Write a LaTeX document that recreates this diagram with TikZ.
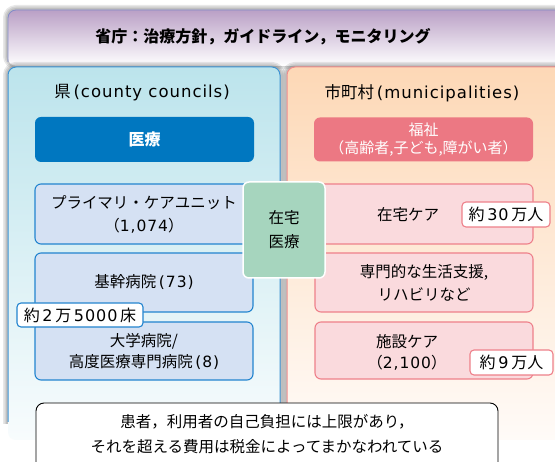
\documentclass[tikz,border=0pt]{standalone}
\usepackage{fontspec}
\setmainfont{Noto Sans CJK JP}
\newfontfamily\lat[LetterSpace=6]{DejaVu Sans}
\definecolor{topPurple}{RGB}{186,160,198}
\definecolor{topBorder}{RGB}{130,140,200}
\definecolor{leftTop}{RGB}{188,228,236}
\definecolor{leftBot}{RGB}{248,252,253}
\definecolor{leftBorder}{RGB}{61,147,211}
\definecolor{rightTop}{RGB}{253,216,182}
\definecolor{rightBot}{RGB}{255,251,248}
\definecolor{rightBorder}{RGB}{240,140,140}
\definecolor{iryoBlue}{RGB}{0,119,192}
\definecolor{fukuPink}{RGB}{236,120,131}
\definecolor{subLfill}{RGB}{213,225,243}
\definecolor{subLdraw}{RGB}{34,132,207}
\definecolor{subRfill}{RGB}{250,218,221}
\definecolor{subRdraw}{RGB}{238,128,138}
\definecolor{zaitaku}{RGB}{166,213,190}
\begin{document}
\begin{tikzpicture}[x=1pt,y=-1pt,
  txt/.style={font=\fontsize{15.5}{23}\selectfont, align=center, inner sep=0pt},
  head/.style={font=\fontsize{16.5}{20}\selectfont, inner sep=0pt},
  halo/.style={draw=black, line width=#1, opacity=0.09, rounded corners=8pt},
  hdrbox/.style={rounded corners=6pt, inner sep=0pt, align=center},
  subL/.style={draw=subLdraw, fill=subLfill, line width=1.1pt, rounded corners=6pt, inner sep=0pt, align=center, font=\fontsize{15.5}{23}\selectfont},
  subR/.style={draw=subRdraw, fill=subRfill, line width=1.1pt, rounded corners=6pt, inner sep=0pt, align=center, font=\fontsize{15.5}{23}\selectfont},
  lbl/.style={fill=white, line width=1.1pt, rounded corners=4pt, inner sep=0pt, font=\fontsize{16}{18}\selectfont}
]
\useasboundingbox (0,0) rectangle (555,462);
\clip (0,0) rectangle (555,462);
\fill[white] (0,0) rectangle (555,462);

% top ministry box
\foreach \w in {10,7,4} {\draw[halo=\w pt] (8,10) rectangle (562,64);}
\shade[top color=topPurple, bottom color=white, rounded corners=8pt] (8,10) rectangle (562,66);
\draw[topBorder, line width=0.8pt, rounded corners=8pt] (8,62) -- (8,10) -- (562,10);
\node[head, font=\bfseries\fontsize{16}{20}\selectfont] (mhlw) at (263,37) {省庁：治療方針，ガイドライン，モニタリング};

% left county box
\foreach \w in {10,7,4} {\draw[halo=\w pt] (8,424) -- (8,67) -- (280,67) -- (280,430);}
\shade[top color=leftTop, bottom color=leftBot, rounded corners=8pt] (8,67) rectangle (280,440);
\draw[leftBorder, line width=1pt, rounded corners=8pt] (8,422) -- (8,67) -- (280,67) -- (280,440);
\node[head] (county) at (142,93) {県{\lat\,(county councils)}};

% right municipality box
\foreach \w in {10,7,4} {\draw[halo=\w pt] (287,430) -- (287,67) -- (562,67);}
\shade[top color=rightTop, bottom color=rightBot, rounded corners=8pt] (287,67) rectangle (562,440);
\draw[rightBorder, line width=1pt, rounded corners=8pt] (287,440) -- (287,67) -- (562,67);
\node[head] (muni) at (422,93) {市町村{\lat\,(municipalities)}};

% header boxes
\node[hdrbox, fill=iryoBlue, minimum width=219pt, minimum height=45pt, text=white, font=\bfseries\fontsize{16}{20}\selectfont] (iryo) at (144.5,139.5) {医療};
\node[hdrbox, fill=fukuPink, minimum width=219pt, minimum height=44pt, text=white, font=\fontsize{15}{17.5}\selectfont] (fukushi) at (423.5,139.5) {福祉\\（高齢者,子ども,障がい者）};

% left sub boxes
\node[subL, minimum width=218pt, minimum height=60pt] (primary) at (144,214) {プライマリ・ケアユニット\\（{\lat 1,074}）};
\node[subL, minimum width=218pt, minimum height=59pt] (core) at (144,282.5) {基幹病院{\lat\,(73)}};
\node[subL, minimum width=218pt, minimum height=58pt, font=\fontsize{15.5}{21}\selectfont] (univ) at (144,351) {大学病院/\\高度医療専門病院{\lat\,(8)}};

% right sub boxes
\node[subR, minimum width=218pt, minimum height=60pt] (homecare) at (424,214) {};
\node[txt] (homecaretxt) at (408,215) {在宅ケア};
\node[subR, minimum width=218pt, minimum height=59pt] (support) at (424,282.5) {専門的な生活支援,\\リハビリなど};
\node[subR, minimum width=218pt, minimum height=57pt] (facility) at (424,350.5) {};
\node[txt, font=\fontsize{15.5}{21}\selectfont] (facilitytxt) at (407,352.5) {施設ケア\\（{\lat 2,100}）};

% home medical care (overlapping)
\node[hdrbox, fill=zaitaku, draw=white, line width=1.5pt, minimum width=82pt, minimum height=96pt, font=\fontsize{15.5}{24}\selectfont] (homemed) at (284,230) {在宅\\医療};

% count labels
\node[lbl, draw=subLdraw, minimum width=126pt, minimum height=24pt] (beds) at (80,315) {約\,{\lat 2}\,万\,{\lat 5000}\,床};
\node[lbl, draw=subRdraw, minimum width=88pt, minimum height=25pt] (home30) at (506,214.5) {約\,{\lat 30}\,万人};
\node[lbl, draw=subRdraw, minimum width=83pt, minimum height=25pt] (fac9) at (511.5,362.5) {約\,{\lat 9}\,万人};

% bottom note
\node[draw=black, fill=white, line width=0.9pt, rounded corners=8pt, minimum width=462pt, minimum height=74pt] (note) at (267,440) {};
\node[txt, font=\fontsize{15.5}{25}\selectfont] (notetxt) at (267,434.5) {患者，利用者の自己負担には上限があり，\\それを超える費用は税金によってまかなわれている};
\end{tikzpicture}
\end{document}
